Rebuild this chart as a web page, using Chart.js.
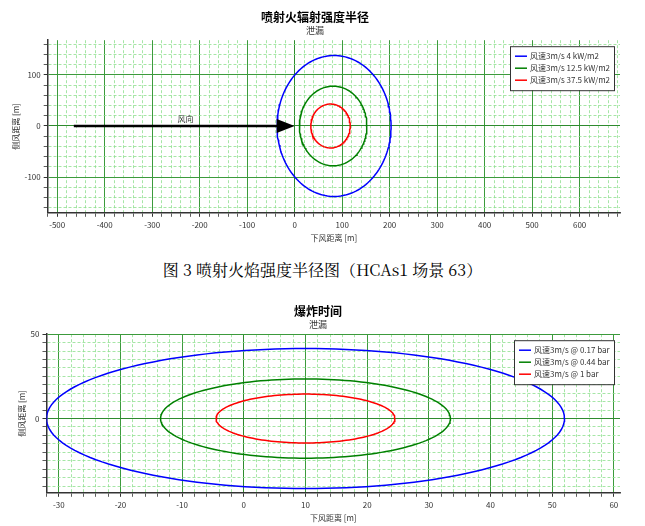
<!DOCTYPE html>
<html><head><meta charset="utf-8">
<script src="https://cdn.jsdelivr.net/npm/chart.js@4.4.0/dist/chart.umd.min.js"></script>
<style>
body{margin:0;background:#fff;width:645px;height:526px;position:relative;overflow:hidden;font-family:"Noto Sans CJK SC",sans-serif}
#c1w{position:absolute;left:0;top:0;width:628px;height:246px}
#c2w{position:absolute;left:0;top:298px;width:628px;height:228px}
#cap{position:absolute;left:0;width:645px;top:258px;text-align:center;font-size:16px;font-family:"Noto Serif CJK SC","Noto Sans CJK SC",serif;color:#000}
</style></head><body>
<div id="c1w"><canvas id="c1"></canvas></div>
<div id="cap">图 3 喷射火焰强度半径图（HCAs1 场景 63）</div>
<div id="c2w"><canvas id="c2"></canvas></div>
<script>
// Top chart: jet fire radiation radii (ellipse: x-left, x-right, half-height)
const fireLabels = ["风速3m/s 4 kW/m2","风速3m/s 12.5 kW/m2","风速3m/s 37.5 kW/m2"];
const fireXLeft  = [-37, 10, 34];
const fireXRight = [203, 152, 117];
const fireHalfY  = [138, 78, 43];
const fireColors = ["#0000ff","#008000","#ff0000"];
const windArrowX = [-465, 0];
// Bottom chart: explosion overpressure
const blastLabels = ["风速3m/s @ 0.17 bar","风速3m/s @ 0.44 bar","风速3m/s @ 1 bar"];
const blastXLeft  = [-32, -13.5, -4.5];
const blastXRight = [52, 33.5, 24.5];
const blastHalfY  = [41.5, 23.5, 14.5];
const blastColors = ["#0000ff","#008000","#ff0000"];

function ellipse(xl,xr,hy){const cx=(xl+xr)/2,rx=(xr-xl)/2,p=[];for(let i=0;i<=160;i++){const t=i/160*2*Math.PI;p.push({x:cx+rx*Math.cos(t),y:hy*Math.sin(t)});}return p;}
const FONT="'Noto Sans CJK SC',sans-serif";
function legendPlugin(labels,colors,w){return{id:'lg',afterDraw(c){const ctx=c.ctx,a=c.chartArea;const x=a.right-w-6,y=a.top+6,h=labels.length*12+8;ctx.save();ctx.fillStyle='#fff';ctx.fillRect(x,y,w,h);ctx.strokeStyle='#333';ctx.lineWidth=1;ctx.strokeRect(x+.5,y+.5,w,h);ctx.font="8px "+FONT;ctx.textBaseline='middle';labels.forEach((l,i)=>{const yy=y+10+i*12;ctx.strokeStyle=colors[i];ctx.lineWidth=1.5;ctx.beginPath();ctx.moveTo(x+5,yy);ctx.lineTo(x+17,yy);ctx.stroke();ctx.fillStyle='#333';ctx.fillText(l,x+20,yy);});ctx.restore();}};}
const isMaj=(v,m)=>Math.abs(v%m)<1e-6;
function axis(min,max,step,major,labelEvery,title){return{type:'linear',min,max,afterBuildTicks:(s)=>{const t=[];const st=Math.ceil(min/step)*step;for(let v=st;v<=max+1e-9;v+=step)t.push({value:Math.round(v*1000)/1000});s.ticks=t;},ticks:{autoSkip:false,maxRotation:0,color:'#333',font:{size:8,family:FONT},callback:(v)=>isMaj(v,labelEvery)?v:''},
grid:{color:(ctx)=>{const v=ctx.tick&&ctx.tick.value;if(v===0)return '#2e8b2e';return isMaj(v,major)?'#3c9a3c':'#8fe08f';},lineWidth:(ctx)=>{const v=ctx.tick&&ctx.tick.value;return isMaj(v,major)?1:0.8;},tickLength:4,tickColor:'#333'},
border:{color:'#333',width:1.5,dash:(ctx)=>{const v=ctx.tick&&ctx.tick.value;return (v===undefined||isMaj(v,major))?[]:[3,2];}},
title:{display:true,text:title,color:'#333',font:{size:8,family:FONT},padding:1}};}

const arrowPlugin={id:'arrow',afterDatasetsDraw(c){const xs=c.scales.x,ys=c.scales.y,ctx=c.ctx;const x0=xs.getPixelForValue(windArrowX[0]),x1=xs.getPixelForValue(windArrowX[1]),y=ys.getPixelForValue(0);ctx.save();ctx.strokeStyle='#000';ctx.lineWidth=2.5;ctx.beginPath();ctx.moveTo(x0,y);ctx.lineTo(x1-16,y);ctx.stroke();ctx.fillStyle='#000';ctx.beginPath();ctx.moveTo(x1,y);ctx.lineTo(x1-18,y-7);ctx.lineTo(x1-18,y+7);ctx.closePath();ctx.fill();ctx.font="8px "+FONT;ctx.textAlign='center';ctx.fillStyle='#333';ctx.fillText('风向',xs.getPixelForValue(-230),y-4);ctx.restore();}};

function ds(labels,xl,xr,hy,colors){return labels.map((l,i)=>({label:l,data:ellipse(xl[i],xr[i],hy[i]),borderColor:colors[i],borderWidth:1.5,pointRadius:0,showLine:true,fill:false,tension:0}));}
function opts(title,xa,ya,pad){return{responsive:true,maintainAspectRatio:false,animation:false,layout:{padding:pad},plugins:{legend:{display:false},tooltip:{enabled:false},title:{display:true,text:title,color:'#000',font:{size:12,weight:'bold',family:FONT},padding:{top:4,bottom:1}},subtitle:{display:true,text:'泄漏',color:'#333',font:{size:9,family:FONT},padding:{bottom:4}}},scales:{x:xa,y:ya}};}

new Chart(document.getElementById('c1'),{type:'scatter',data:{datasets:ds(fireLabels,fireXLeft,fireXRight,fireHalfY,fireColors)},
options:opts('喷射火辐射强度半径',axis(-520,685,20,100,100,'下风距离 [m]'),axis(-170,168,20,100,100,'侧风距离 [m]'),{left:10,right:8,top:6,bottom:2}),
plugins:[arrowPlugin,legendPlugin(fireLabels,fireColors,104)]});

new Chart(document.getElementById('c2'),{type:'scatter',data:{datasets:ds(blastLabels,blastXLeft,blastXRight,blastHalfY,blastColors)},
options:opts('爆炸时间',axis(-32,61,2,10,10,'下风距离 [m]'),axis(-44,50,5,50,50,'侧风距离 [m]'),{left:16,right:8,top:2,bottom:2}),
plugins:[legendPlugin(blastLabels,blastColors,100)]});
</script></body></html>
